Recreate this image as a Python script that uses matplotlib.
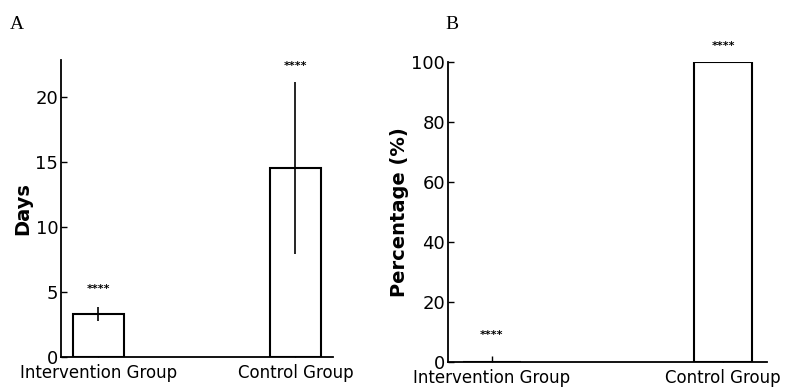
import matplotlib
matplotlib.use("Agg")
import matplotlib.pyplot as plt

groups = ["Intervention Group", "Control Group"]
days_mean = [3.3, 14.5]
days_err = [0.55, 6.6]
days_star_y = [4.8, 22.0]
pct_values = [0, 100]
pct_star_y = [9, 105.5]
star_text = "****"

plt.rcParams["font.family"] = ["DejaVu Sans"]

fig = plt.figure(figsize=(7.88, 3.88), dpi=100)
axA = fig.add_axes([0.0774, 0.080, 0.345, 0.765])
axB = fig.add_axes([0.5685, 0.067, 0.405, 0.773])

def style(ax):
    ax.spines["top"].set_visible(False)
    ax.spines["right"].set_visible(False)
    for s in ["left", "bottom"]:
        ax.spines[s].set_linewidth(1.3)
    ax.tick_params(direction="in", length=4, width=1, labelsize=13, pad=2)
    ax.tick_params(axis="x", pad=5)
    ax.set_xticks(range(len(groups)))
    ax.set_xticklabels(groups, fontsize=12)

x = list(range(len(groups)))

# panel A
axA.bar(x, days_mean, width=0.26, color="white", edgecolor="black", linewidth=1.5, zorder=2)
axA.errorbar(x, days_mean, yerr=days_err, fmt="none", ecolor="black", elinewidth=1.2, capsize=0, zorder=3)
for xi, yi in zip(x, days_star_y):
    axA.text(xi, yi, star_text, ha="center", va="bottom", fontsize=8, fontweight="bold")
axA.set_xlim(-0.19, 1.19)
axA.set_ylim(0, 22.8)
axA.set_yticks([0, 5, 10, 15, 20])
axA.set_ylabel("Days", fontsize=14, fontweight="bold", labelpad=2)
style(axA)

# panel B
axB.bar(x, pct_values, width=0.25, color="white", edgecolor="black", linewidth=1.5, zorder=2)
for xi, yi in zip(x, pct_star_y):
    axB.text(xi, yi, star_text, ha="center", va="center", fontsize=8, fontweight="bold", clip_on=False)
axB.set_xlim(-0.19, 1.19)
axB.set_ylim(0, 100)
axB.set_yticks([0, 20, 40, 60, 80, 100])
axB.set_ylabel("Percentage (%)", fontsize=14, fontweight="bold", labelpad=2)
style(axB)

fig.text(0.012, 0.925, "A", fontsize=14, family="Liberation Serif")
fig.text(0.565, 0.925, "B", fontsize=14, family="Liberation Serif")

fig.savefig("out.png", dpi=100)
